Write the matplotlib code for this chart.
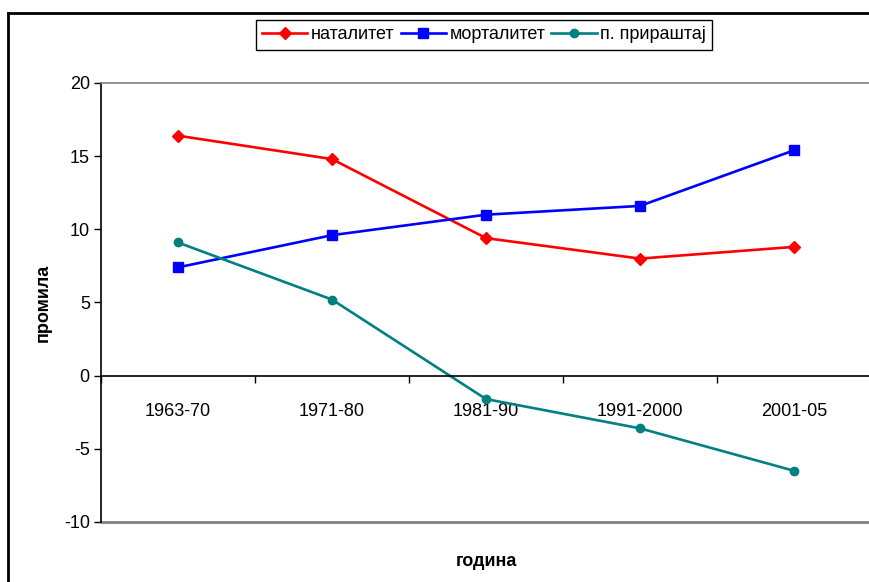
import matplotlib.pyplot as plt
from matplotlib.lines import Line2D

plt.rcParams['font.family'] = ['Liberation Sans', 'DejaVu Sans']
plt.rcParams['axes.unicode_minus'] = False

# data
periods = ['1963-70', '1971-80', '1981-90', '1991-2000', '2001-05']
natality = [16.4, 14.8, 9.4, 8.0, 8.8]
mortality = [7.4, 9.6, 11.0, 11.6, 15.4]
natural_increase = [9.1, 5.2, -1.6, -3.6, -6.5]

fig = plt.figure(figsize=(8.69, 5.82), dpi=100)
ax = fig.add_axes([0.1162, 0.1031, 0.8861, 0.7543])

x = range(len(periods))
ax.plot(x, natality, color='#FF0000', lw=1.9, marker='D', ms=6, label='наталитет')
ax.plot(x, mortality, color='#0000FF', lw=1.9, marker='s', ms=6.5, label='морталитет')
ax.plot(x, natural_increase, color='#008080', lw=1.9, marker='o', ms=6, label='п. прираштај')

# axes look (excel style)
ax.set_xlim(-0.5, len(periods) - 0.5)
ax.set_ylim(-10, 20)
ax.set_yticks(range(-10, 21, 5))
ax.spines['bottom'].set_position(('data', 0))
ax.spines['bottom'].set_linewidth(1.2)
ax.spines['left'].set_linewidth(1.2)
ax.spines['right'].set_visible(False)
ax.spines['top'].set_color('#808080')
ax.spines['top'].set_linewidth(1.2)
ax.axhline(-10, color='#808080', lw=2.0, clip_on=False)

ax.set_xticks(x)
ax.set_xticklabels(periods)
ax.set_xticks([i - 0.5 for i in range(len(periods) + 1)], minor=True)
ax.tick_params(axis='x', which='major', length=0, pad=20, labelsize=13)
ax.tick_params(axis='x', which='minor', length=5, direction='out', width=1)
ax.tick_params(axis='y', length=5, width=1, labelsize=13, pad=3)

ax.set_ylabel('промила', fontsize=13, fontweight='bold')
ax.yaxis.set_label_coords(-0.064, 0.5)
ax.set_xlabel('година', fontsize=13, fontweight='bold')
ax.xaxis.set_label_coords(0.5, -0.07)

leg = fig.legend(loc='center', bbox_to_anchor=(0.557, 0.94), ncol=3, fontsize=13,
                 frameon=True, fancybox=False, edgecolor='black', framealpha=1,
                 handlelength=2.5, handletextpad=0.2, columnspacing=0.35,
                 borderpad=0.35)
leg.get_frame().set_linewidth(1.0)

# outer chart border (cut off on right and bottom)
fig.add_artist(Line2D([0.0092, 0.0092], [0, 0.978], color='black', lw=2, transform=fig.transFigure))
fig.add_artist(Line2D([0.0092, 1], [0.978, 0.978], color='black', lw=2, transform=fig.transFigure))

fig.savefig('out.png', dpi=100)
